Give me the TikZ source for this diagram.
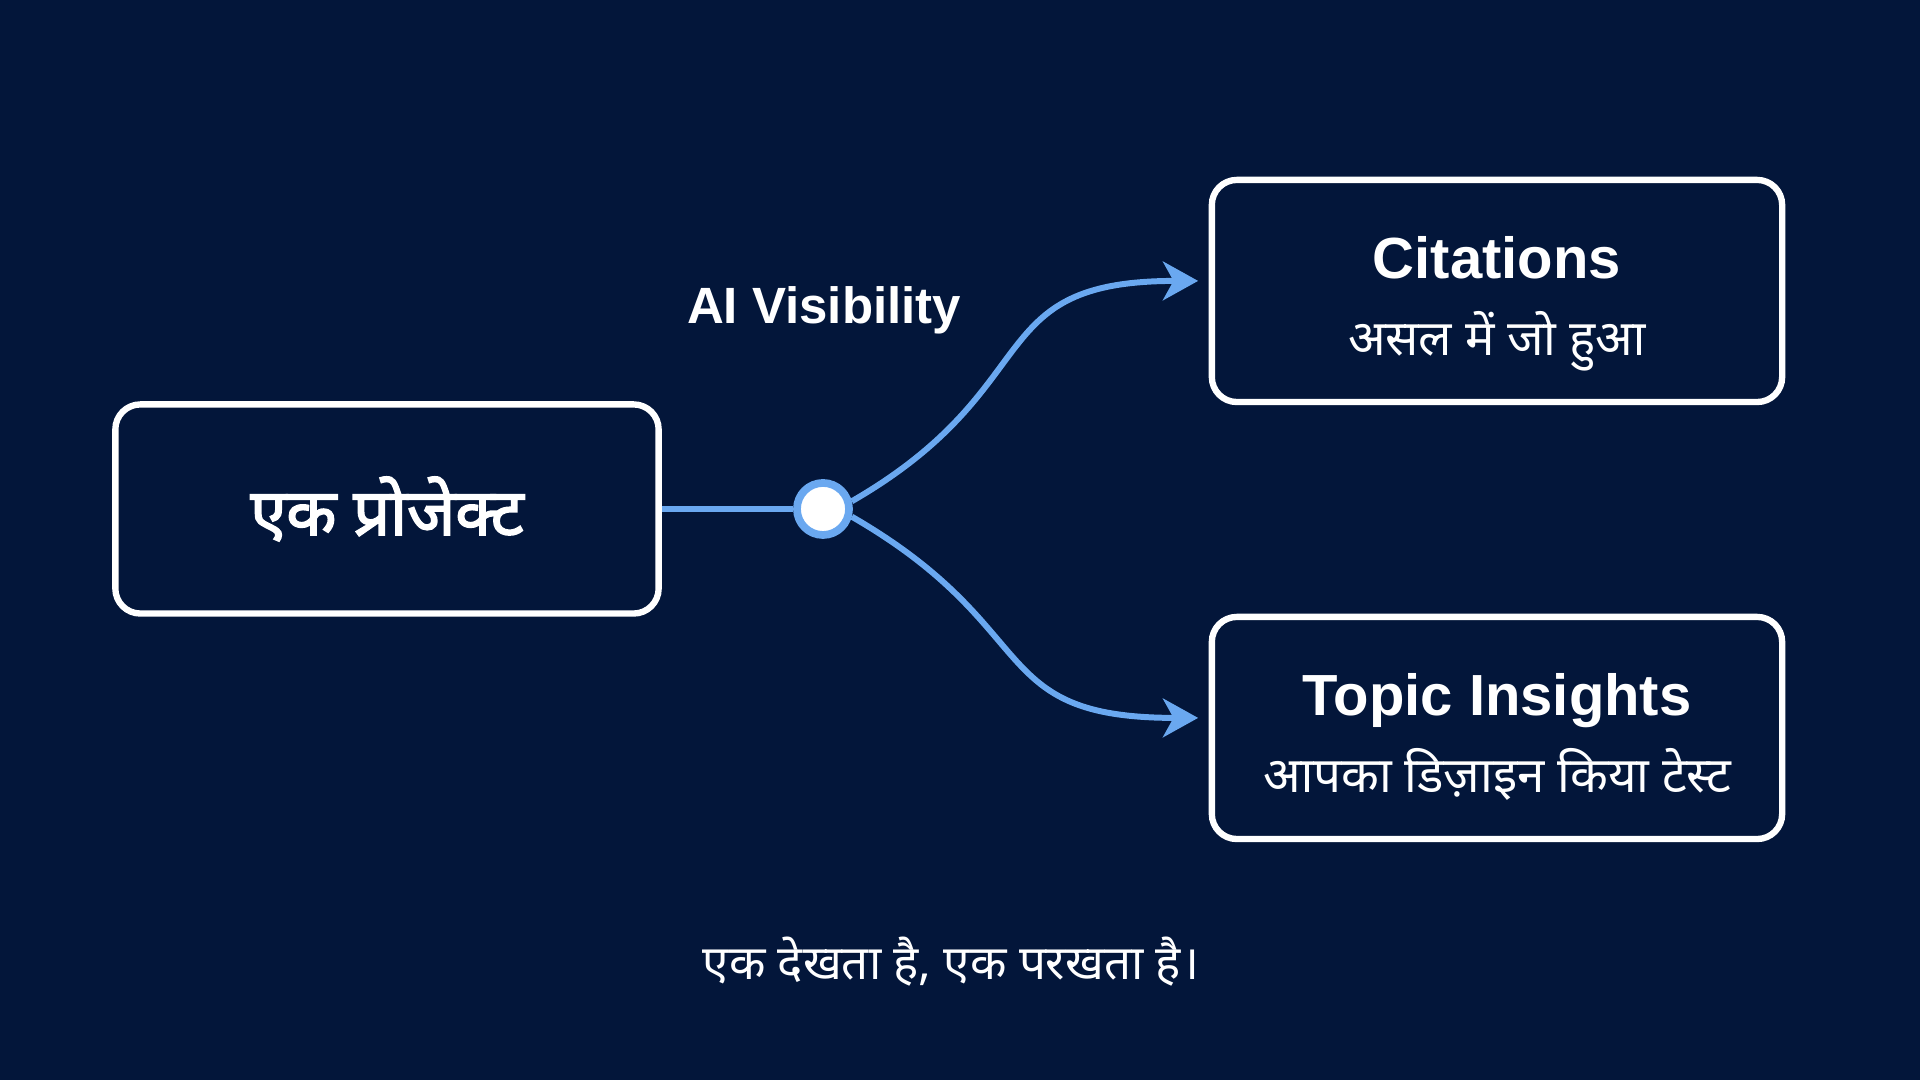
\documentclass[tikz,border=0pt]{standalone}
\usepackage{fontspec}
\setmainfont{Liberation Sans}
\newfontfamily\hindi[Script=Devanagari]{Noto Sans}
\newfontfamily\hindibold[Script=Devanagari, FakeBold=2.5]{Noto Sans}
\usetikzlibrary{arrows.meta}
\definecolor{navy}{RGB}{3,22,58}
\definecolor{linkblue}{RGB}{106,168,240}

\begin{document}
\begin{tikzpicture}
  [x=0.01cm, y=0.01cm,
   box/.style={draw=white, line width=1.8pt, rounded corners=0.25cm, inner sep=0pt},
   title/.style={text=white, anchor=base, font=\bfseries\fontsize{16.5}{20}\selectfont},
   sub/.style={text=white, anchor=base, font=\hindi\fontsize{14}{18}\selectfont},
   link/.style={draw=linkblue, line width=1.7pt},
   tip/.style={-{Stealth[length=10pt, width=11pt, inset=3pt]}, shorten >=3pt}]
  \fill[navy] (0,0) rectangle (1920,1080);
  \useasboundingbox (0,0) rectangle (1920,1080);
  \node (proj) at (387,571) [box, minimum width=5.43cm, minimum height=2.09cm,
    text=white, font=\hindibold\fontsize{18.5}{22}\selectfont] {एक प्रोजेक्ट};
  \foreach \n/\y/\t/\s in {cite/789/Citations/असल में जो हुआ,
                           topic/352/Topic Insights/आपका डिज़ाइन किया टेस्ट}{
    \node (\n) at (1497,\y) [box, minimum width=5.7cm, minimum height=2.22cm] {};
    \node (\n-t) at (1497,\y+12) [title] {\t};
    \node (\n-s) at (1497,\y-65) [sub] {\s};
  }
  \node (junc) at (823,571) [circle, fill=white, draw=linkblue, line width=2.2pt, minimum size=0.52cm, inner sep=0pt] {};
  \node (vis) at (824,756) [title, font=\bfseries\fontsize{14.5}{18}\selectfont] {AI Visibility};
  \node (cap) at (951,100) [sub, font=\hindi\fontsize{13.5}{17}\selectfont] {एक देखता है, एक परखता है।};
  \draw [link] (proj.east) -- (junc.west);
  \draw [link, tip] (junc.15) to [out=30, in=180, looseness=1.4] (cite.178);
  \draw [link, tip] (junc.-15) to [out=-30, in=180, looseness=1.4] (topic.178);
\end{tikzpicture}
\end{document}
